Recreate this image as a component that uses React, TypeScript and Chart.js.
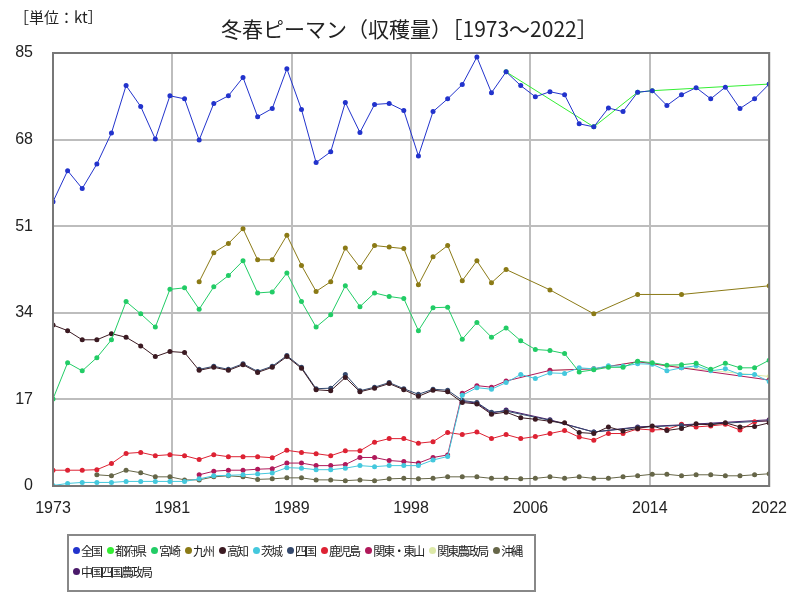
import React, { useEffect, useRef } from "react";
import { Chart, registerables } from "chart.js";

Chart.register(...registerables);

const years = [
  1973, 1974, 1975, 1976, 1977, 1978, 1979, 1980, 1981, 1982,
  1983, 1984, 1985, 1986, 1987, 1988, 1989, 1990, 1991, 1992,
  1993, 1994, 1995, 1996, 1997, 1998, 1999, 2000, 2001, 2002,
  2003, 2004, 2005, 2006, 2007, 2008, 2009, 2010, 2011, 2012,
  2013, 2014, 2015, 2016, 2017, 2018, 2019, 2020, 2021, 2022,
];

const zenkoku = [
  55.8, 61.9, 58.4, 63.2, 69.3, 78.6, 74.5, 68.1, 76.6, 76.0,
  67.9, 75.1, 76.6, 80.2, 72.5, 74.1, 81.9, 73.9, 63.5, 65.6,
  75.3, 69.4, 74.9, 75.1, 73.7, 64.8, 73.5, 76.0, 78.8, 84.2,
  77.2, 81.3, 78.6, 76.4, 77.4, 76.8, 71.1, 70.5, 74.2, 73.5,
  77.3, 77.6, 74.7, 76.8, 78.2, 76.0, 78.3, 74.1, 76.0, 78.9,
];

const tofuken = [
  null, null, null, null, null, null, null, null, null, null,
  null, null, null, null, null, null, null, null, null, null,
  null, null, null, null, null, null, null, null, null, null,
  null, 81.3, null, null, null, null, null, 70.5, null, null,
  77.3, 77.6, null, null, null, null, null, null, null, 78.9,
];

const miyazaki = [
  17.1, 24.2, 22.6, 25.2, 28.7, 36.2, 33.8, 31.2, 38.6, 38.9,
  34.7, 39.1, 41.3, 44.2, 37.9, 38.1, 41.8, 36.2, 31.2, 33.6,
  39.3, 35.2, 37.9, 37.2, 36.8, 30.5, 35.0, 35.1, 28.8, 32.1,
  29.2, 31.0, 28.5, 26.8, 26.6, 26.0, 22.4, 22.8, 23.3, 23.3,
  24.5, 24.2, 23.7, 23.8, 24.1, 22.9, 24.1, 23.2, 23.2, 24.7,
];

const kyushu = [
  null, null, null, null, null, null, null, null, null, null,
  40.1, 45.8, 47.6, 50.5, 44.4, 44.4, 49.2, 43.3, 38.2, 40.1,
  46.7, 42.9, 47.2, 46.9, 46.6, 39.5, 45.0, 47.2, 40.3, 44.2,
  39.9, 42.5, null, null, 38.5, null, null, 33.8, null, null,
  37.6, null, null, 37.6, null, null, null, null, null, 39.3,
];

const kochi = [
  31.6, 30.5, 28.7, 28.7, 29.9, 29.2, 27.5, 25.4, 26.4, 26.2,
  22.7, 23.3, 22.7, 23.8, 22.3, 23.3, 25.4, 23.1, 18.9, 18.7,
  21.3, 18.5, 19.2, 20.1, 18.9, 17.6, 18.8, 18.5, 16.4, 16.1,
  14.1, 14.5, 13.4, 13.1, 12.7, 12.4, 10.5, 10.3, 11.6, 10.8,
  11.3, 11.8, 10.9, 11.3, 12.2, 12.0, 12.4, 11.6, 11.7, 12.4,
];

const ibaraki = [
  0.1, 0.5, 0.7, 0.7, 0.7, 0.9, 0.9, 0.9, 0.9, 0.9,
  1.4, 2.0, 2.1, 2.2, 2.35, 2.55, 3.6, 3.5, 3.2, 3.2,
  3.5, 4.0, 3.8, 4.0, 4.0, 4.0, 5.1, 5.8, 17.8, 19.3,
  19.0, 20.3, 21.9, 21.1, 22.2, 22.1, 23.2, 23.0, 23.6, 23.5,
  24.0, 23.9, 22.6, 23.2, 23.6, 22.6, 23.0, 21.9, 21.9, 20.5,
];

const shikoku = [
  null, null, null, null, null, null, null, null, null, null,
  22.9, 23.5, 22.9, 24.0, 22.5, 23.5, 25.6, 23.3, 19.1, 19.2,
  21.9, 18.7, 19.4, 20.3, 19.1, 18.0, 19.0, 18.8, 16.8, 16.4,
  14.5, 14.7, null, null, 12.9, null, null, 10.6, null, null,
  11.5, null, null, 11.9, null, null, null, null, null, 12.8,
];

const kagoshima = [
  3.1, 3.1, 3.1, 3.2, 4.4, 6.4, 6.6, 5.95, 6.15, 5.95,
  5.2, 6.15, 5.75, 5.75, 5.75, 5.55, 7.0, 6.6, 6.35, 5.95,
  6.9, 6.9, 8.6, 9.3, 9.3, 8.4, 8.7, 10.5, 10.1, 10.6,
  9.3, 10.1, 9.3, 9.7, 10.3, 10.9, 9.6, 9.0, 10.3, 10.3,
  11.2, 11.0, 11.1, 12.1, 11.6, 11.8, 12.1, 11.0, 12.6, 12.8,
];

const kantoTosan = [
  null, null, null, null, null, null, null, null, null, null,
  2.2, 2.9, 3.1, 3.1, 3.3, 3.4, 4.5, 4.5, 4.0, 4.0,
  4.2, 5.6, 5.6, 5.0, 4.8, 4.5, 5.6, 6.1, 18.2, 19.7,
  19.4, 20.6, null, null, 22.7, null, null, 23.0, null, null,
  24.4, null, null, 23.2, null, null, null, null, null, 20.8,
];

const kantoNoseikyoku = [
  null, null, null, null, null, null, null, null, null, null,
  null, null, null, null, null, null, null, null, null, null,
  null, null, null, null, null, null, null, null, null, null,
  null, null, null, null, 22.7, null, null, 23.0, null, null,
  24.4, null, null, 23.3, null, null, null, null, null, 21.5,
];

const okinawa = [
  null, null, null, 2.2, 2.0, 3.1, 2.6, 1.8, 1.8, 1.2,
  1.2, 1.8, 2.0, 1.8, 1.3, 1.4, 1.6, 1.6, 1.2, 1.2,
  1.05, 1.2, 1.05, 1.4, 1.5, 1.4, 1.5, 1.8, 1.8, 1.8,
  1.5, 1.5, 1.4, 1.5, 1.8, 1.5, 1.8, 1.5, 1.5, 1.8,
  2.0, 2.3, 2.3, 2.0, 2.2, 2.2, 2.0, 2.0, 2.2, 2.4,
];

const chugokuShikoku = [
  null, null, null, null, null, null, null, null, null, null,
  null, null, null, null, null, null, null, null, null, null,
  null, null, null, null, null, null, null, null, 16.6, 16.3,
  14.3, 14.9, null, null, 13.0, null, null, 10.6, null, null,
  11.6, null, null, 12.0, null, null, null, null, null, 13.0,
];

const seriesNames = [
  "全国", "都府県", "宮崎", "九州", "高知", "茨城", "四国", "鹿児島",
  "関東・東山", "関東農政局", "沖縄", "中国四国農政局",
];
const seriesValues = [
  zenkoku, tofuken, miyazaki, kyushu, kochi, ibaraki, shikoku, kagoshima,
  kantoTosan, kantoNoseikyoku, okinawa, chugokuShikoku,
];
const seriesColors = [
  "#2233cc", "#33ee33", "#22cc66", "#8b7a16", "#3b1a22", "#44c8dd",
  "#34496e", "#dd2233", "#b0195a", "#dde9a8", "#666648", "#4a1a6a",
];

const yTicks = [0, 17, 34, 51, 68, 85];
const xMin = 1973;
const xMax = 2022;
const xTickCount = 7;

const framePlugin = {
  id: "frame",
  afterDraw(chart: any) {
    const { ctx, chartArea } = chart;
    ctx.save();
    ctx.strokeStyle = "#777777";
    ctx.lineWidth = 2;
    ctx.strokeRect(
      chartArea.left,
      chartArea.top,
      chartArea.right - chartArea.left,
      chartArea.bottom - chartArea.top
    );
    ctx.restore();
  },
};

export default function App() {
  const canvasRef = useRef<HTMLCanvasElement | null>(null);

  useEffect(() => {
    if (!canvasRef.current) return;
    const datasets = seriesNames.map((name, k) => ({
      label: name,
      data: years
        .map((yr, i) => ({ x: yr, y: seriesValues[k][i] }))
        .filter((p) => p.y !== null && p.y !== undefined),
      borderColor: seriesColors[k],
      backgroundColor: seriesColors[k],
      borderWidth: 1,
      pointRadius: 2.5,
      pointHoverRadius: 3,
      pointBorderWidth: 0,
      tension: 0,
      spanGaps: true,
    }));

    const chart = new Chart(canvasRef.current, {
      type: "line",
      data: { datasets },
      options: {
        animation: false,
        responsive: false,
        maintainAspectRatio: false,
        layout: { padding: { left: 0, top: 53, right: 27, bottom: 74 } },
        plugins: {
          legend: { display: false },
          title: { display: false },
          tooltip: { enabled: false },
        },
        scales: {
          x: {
            type: "linear",
            min: xMin,
            max: xMax,
            afterBuildTicks: (axis: any) => {
              const step = (xMax - xMin) / (xTickCount - 1);
              axis.ticks = Array.from({ length: xTickCount }, (_, i) => ({
                value: xMin + i * step,
              }));
            },
            afterFit: (scale: any) => {
              scale.height = 40;
            },
            ticks: {
              callback: (v: any) => String(Math.round(Number(v))),
              color: "#222",
              font: { size: 16, family: "'Liberation Sans', Arial, sans-serif" },
              padding: 13,
              maxRotation: 0,
              autoSkip: false,
            },
            grid: { color: "#bdbdbd", lineWidth: 2, drawTicks: false },
            border: { display: false },
          },
          y: {
            min: 0,
            max: 85,
            afterBuildTicks: (axis: any) => {
              axis.ticks = yTicks.map((v) => ({ value: v }));
            },
            afterFit: (scale: any) => {
              scale.width = 53;
            },
            ticks: {
              color: "#222",
              font: { size: 16, family: "'Liberation Sans', Arial, sans-serif" },
              padding: 20,
            },
            grid: { color: "#bdbdbd", lineWidth: 2, drawTicks: false },
            border: { display: false },
          },
        },
      },
      plugins: [framePlugin],
    });
    return () => chart.destroy();
  }, []);

  const jp = "'Noto Sans CJK JP', 'Noto Sans', sans-serif";

  return (
    <div
      style={{
        position: "absolute",
        left: 0,
        top: 0,
        width: 800,
        height: 600,
        background: "#fff",
        fontFamily: jp,
      }}
    >
      <canvas ref={canvasRef} width={800} height={600} style={{ position: "absolute", left: 0, top: 0 }} />
      <div
        style={{
          position: "absolute",
          left: 14,
          top: 6,
          fontSize: 15,
          color: "#222",
          whiteSpace: "nowrap",
        }}
      >
        ［単位：kt］
      </div>
      <div
        style={{
          position: "absolute",
          left: 221,
          top: 13,
          fontSize: 21,
          color: "#222",
          whiteSpace: "nowrap",
        }}
      >
        冬春ピーマン（収穫量）［1973～2022］
      </div>
      <div
        style={{
          position: "absolute",
          left: 67,
          top: 534,
          width: 461,
          height: 50,
          border: "2px solid #888",
          paddingLeft: 4,
          paddingTop: 4,
          display: "flex",
          flexWrap: "wrap",
          alignContent: "flex-start",
          boxSizing: "content-box",
        }}
      >
        {seriesNames.map((name, k) => (
          <div
            key={name}
            style={{
              display: "flex",
              alignItems: "center",
              height: 21,
              marginRight: 6,
            }}
          >
            <span
              style={{
                display: "inline-block",
                width: 7,
                height: 7,
                borderRadius: "50%",
                background: seriesColors[k],
                marginRight: 1,
              }}
            />
            <span
              style={{
                fontSize: 12,
                letterSpacing: -2,
                color: "#222",
                whiteSpace: "nowrap",
                lineHeight: "21px",
              }}
            >
              {name}
            </span>
          </div>
        ))}
      </div>
    </div>
  );
}
